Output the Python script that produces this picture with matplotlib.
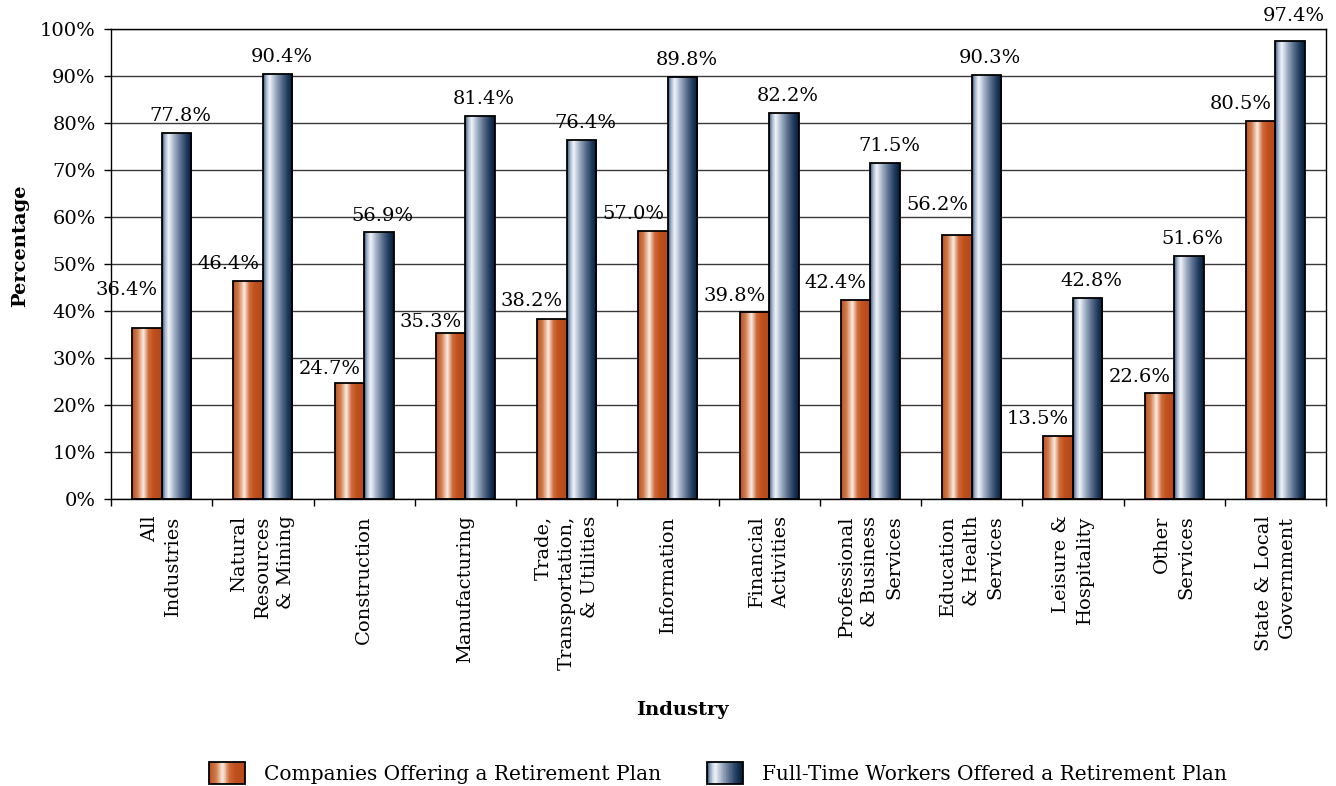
import numpy as np
import matplotlib
matplotlib.use("Agg")
import matplotlib.pyplot as plt
from matplotlib.colors import LinearSegmentedColormap
from matplotlib.patches import Rectangle, Patch
from matplotlib.legend_handler import HandlerBase

# ---------------- data ----------------
categories = ["All\nIndustries", "Natural\nResources\n& Mining", "Construction",
              "Manufacturing", "Trade,\nTransportation,\n& Utilities", "Information",
              "Financial\nActivities", "Professional\n& Business\nServices",
              "Education\n& Health\nServices", "Leisure &\nHospitality",
              "Other\nServices", "State & Local\nGovernment"]
companies = [36.4, 46.4, 24.7, 35.3, 38.2, 57.0, 39.8, 42.4, 56.2, 13.5, 22.6, 80.5]
workers = [77.8, 90.4, 56.9, 81.4, 76.4, 89.8, 82.2, 71.5, 90.3, 42.8, 51.6, 97.4]
series_names = ["Companies Offering a Retirement Plan",
                "Full-Time Workers Offered a Retirement Plan"]
y_ticks = [0, 10, 20, 30, 40, 50, 60, 70, 80, 90, 100]

# label placement (pixel offsets of label centers from bar tops)
comp_dx = -20
work_dx = 4
comp_dy = [38, 17, 14, 11, 18, 17, 16, 17, 30, 17, 16, 17]
work_dy = [17, 17, 16, 17, 17, 17, 17, 17, 17, 17, 17, 25]

# ---------------- style ----------------
plt.rcParams['font.family'] = ['DejaVu Serif']
FS = 14

orange_cmap = LinearSegmentedColormap.from_list("org", [
    (0.00, "#BC5220"), (0.18, "#D07A48"), (0.38, "#F9EDE4"),
    (0.55, "#D06C3A"), (0.72, "#C0511E"), (1.00, "#B44818")])
blue_cmap = LinearSegmentedColormap.from_list("blu", [
    (0.00, "#2E4A70"), (0.10, "#A0B2CA"), (0.22, "#F2F5FA"),
    (0.40, "#A6B4C8"), (0.62, "#5A6F8E"), (0.82, "#203C5E"), (1.00, "#021A36")])

W, H = 1336, 786
fig = plt.figure(figsize=(W / 100, H / 100), dpi=100)
ax = fig.add_axes([111 / W, 1 - 499 / H, (1326 - 111) / W, (499 - 29) / H])

x = np.arange(len(categories))
bw = 0.291

bars_c = ax.bar(x - bw / 2, companies, bw, facecolor='none', edgecolor='black',
                linewidth=1.3, zorder=3)
bars_w = ax.bar(x + bw / 2, workers, bw, facecolor='none', edgecolor='black',
                linewidth=1.3, zorder=3)

grad = np.linspace(0, 1, 256)[np.newaxis, :]
for bars, cmap in ((bars_c, orange_cmap), (bars_w, blue_cmap)):
    for p in bars:
        x0, y0 = p.get_x(), p.get_y()
        im = ax.imshow(grad, cmap=cmap, extent=[x0, x0 + p.get_width(), y0, y0 + p.get_height()],
                       aspect='auto', interpolation='bilinear', zorder=2)
        im.set_clip_path(p)

ax.set_xlim(-0.5, len(categories) - 0.5)
ax.set_ylim(0, 100)

# grid
ax.set_axisbelow(True)
ax.yaxis.grid(True, color='#3a3a3a', linewidth=1.0, zorder=0)

# y ticks
ax.set_yticks(y_ticks)
ax.set_yticklabels([f"{v}%" for v in y_ticks], fontsize=FS)
ax.tick_params(axis='y', direction='out', length=5, width=1, pad=6)

# x ticks: major at boundaries (no labels), minor at centers (labels)
ax.set_xticks(np.arange(-0.5, len(categories), 1.0))
ax.set_xticklabels([])
ax.tick_params(axis='x', which='major', direction='out', length=5, width=1)
ax.set_xticks(x, minor=True)
ax.set_xticklabels(categories, minor=True, rotation=90, fontsize=FS,
                   ha='center', va='top', multialignment='right', linespacing=1.4)
ax.tick_params(axis='x', which='minor', length=0, pad=12)

for s in ax.spines.values():
    s.set_color('black')
    s.set_linewidth(1.0)

# data labels
for i, (p, v) in enumerate(zip(bars_c, companies)):
    ax.annotate(f"{v:.1f}%", (p.get_x() + p.get_width() / 2, v),
                xytext=(comp_dx, comp_dy[i]), textcoords='offset pixels',
                ha='center', va='center', fontsize=FS, zorder=5, annotation_clip=False)
for i, (p, v) in enumerate(zip(bars_w, workers)):
    ax.annotate(f"{v:.1f}%", (p.get_x() + p.get_width() / 2, v),
                xytext=(work_dx, work_dy[i]), textcoords='offset pixels',
                ha='center', va='center', fontsize=FS, zorder=5, annotation_clip=False)

# axis titles
fig.text(20 / W, 1 - 246 / H, "Percentage", rotation=90, ha='center', va='center',
         fontsize=14, fontweight='bold')
fig.text(682 / W, 1 - 710 / H, "Industry", ha='center', va='center',
         fontsize=14, fontweight='bold')


# legend with gradient swatches
class GradientHandler(HandlerBase):
    def __init__(self, cmap):
        super().__init__()
        self.cmap = cmap

    def create_artists(self, legend, orig_handle, xdescent, ydescent, width, height,
                       fontsize, trans):
        n = 48
        arts = []
        for k in range(n):
            arts.append(Rectangle((-xdescent + width * k / n, -ydescent), width / n * 1.08,
                                  height, facecolor=self.cmap((k + 0.5) / n),
                                  edgecolor='none', transform=trans))
        arts.append(Rectangle((-xdescent, -ydescent), width, height, facecolor='none',
                              edgecolor='black', linewidth=1.3, transform=trans))
        return arts


h1, h2 = Patch(), Patch()
LFS = 14.5
leg = fig.legend([h1, h2], series_names, handler_map={h1: GradientHandler(orange_cmap),
                                                     h2: GradientHandler(blue_cmap)},
                 loc='center', bbox_to_anchor=(718 / W, 1 - 773 / H), ncol=2,
                 frameon=False, fontsize=LFS, handlelength=1.75, handleheight=1.25,
                 handletextpad=0.95, columnspacing=2.3)

fig.savefig("out.png", dpi=100)
